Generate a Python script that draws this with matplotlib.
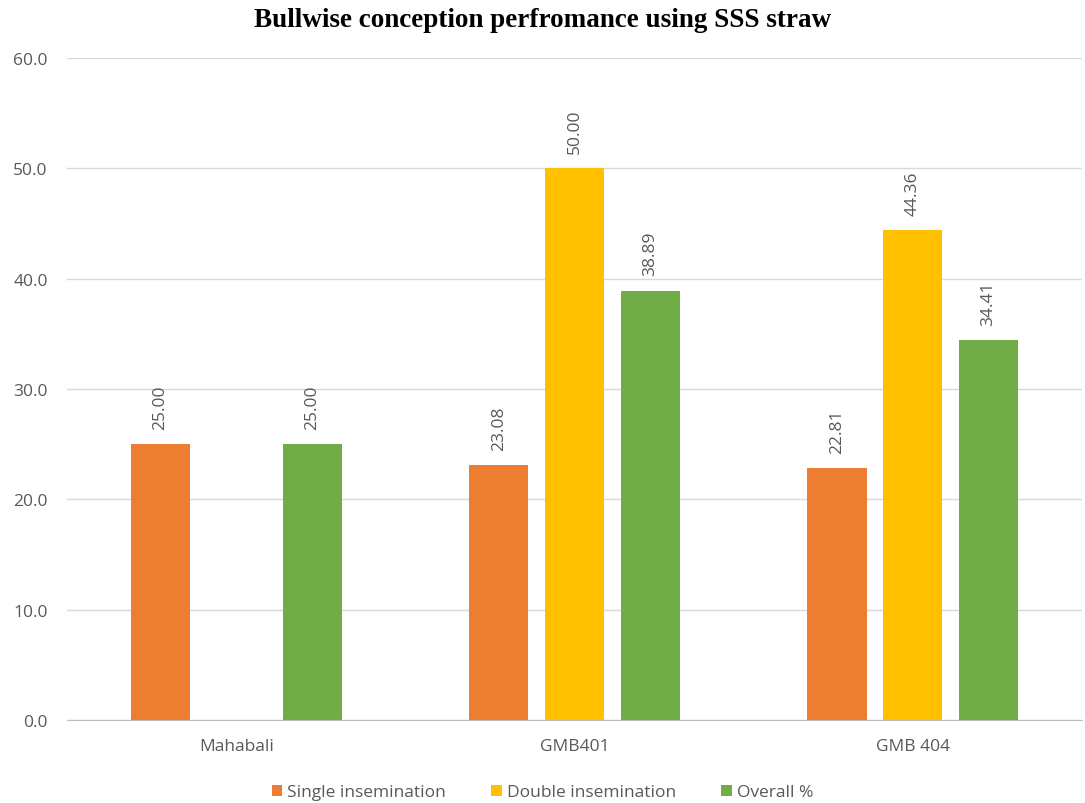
import numpy as np
import matplotlib.pyplot as plt

bulls = ["Mahabali", "GMB401", "GMB 404"]
series_names = ["Single insemination", "Double insemination", "Overall %"]
single = [25.00, 23.08, 22.81]
double = [np.nan, 50.00, 44.36]
overall = [25.00, 38.89, 34.41]
colors = ["#ED7D31", "#FFC000", "#70AD47"]

plt.rcParams['font.family'] = ['Open Sans', 'DejaVu Sans']

fig = plt.figure(figsize=(10.85, 8.04), dpi=100)
ax = fig.add_axes([0.062, 0.103, 0.935, 0.824])

x = np.arange(len(bulls))
width = 0.175
step = 0.224
for i, (vals, name, c) in enumerate(zip([single, double, overall], series_names, colors)):
    pos = x + (i - 1) * step
    ax.bar(pos, vals, width, color=c, label=name, zorder=3)
    for px, v in zip(pos, vals):
        if np.isnan(v):
            continue
        ax.text(px, v + 1.4, f"{v:.2f}", rotation=90, ha='center', va='bottom',
                fontsize=12.5, color='#595959')

ax.set_xlim(-0.5, 2.5)
ax.set_ylim(0, 60)
ax.set_yticks(np.arange(0, 61, 10))
ax.set_yticklabels([f"{t:.1f}" for t in np.arange(0, 61, 10)])
ax.set_xticks(x)
ax.set_xticklabels(bulls)
ax.tick_params(axis='both', length=0, labelsize=12.5, labelcolor='#595959')
ax.tick_params(axis='y', pad=14)
ax.tick_params(axis='x', pad=13)
ax.grid(axis='y', color='#D9D9D9', linewidth=1, zorder=0)
for s in ['top', 'right', 'left']:
    ax.spines[s].set_visible(False)
ax.spines['bottom'].set_color('#BFBFBF')

fig.suptitle("Bullwise conception perfromance using SSS straw", y=0.99,
             fontsize=19.5, fontweight='bold', family='Liberation Serif')

fig.legend(loc='lower center', bbox_to_anchor=(0.5, -0.016), ncol=3, frameon=False,
           fontsize=12.5, labelcolor='#595959', handlelength=0.6, handleheight=0.6,
           handletextpad=0.3, columnspacing=2.6)

fig.savefig("out.png", dpi=100)
